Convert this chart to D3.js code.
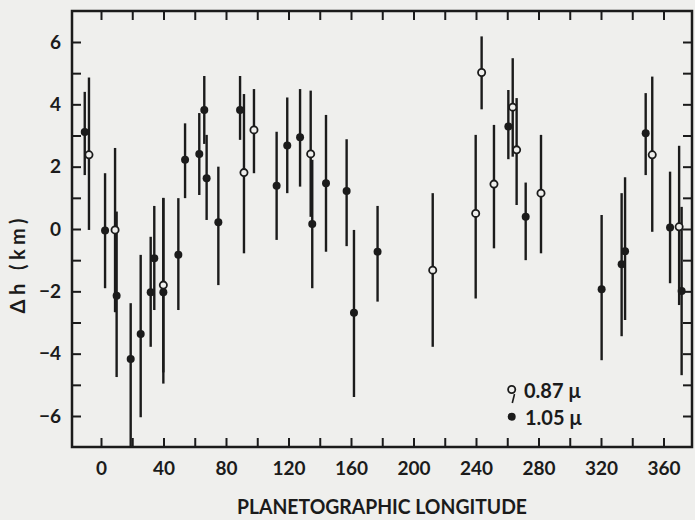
<!DOCTYPE html>
<html><head><meta charset="utf-8">
<script src="https://cdn.jsdelivr.net/npm/d3@7"></script>
<style>
body{margin:0;background:#efefed;}
svg{display:block;}
text{font-family:Lato,"DejaVu Sans",sans-serif;font-weight:700;fill:#1b1b1b;}
</style>
</head><body>
<svg id="chart" width="695" height="520"></svg>
<script>
// ---- tick values / labels ----
const xTicks = d3.range(0, 361, 20);
const xLabelValues = [0, 40, 80, 120, 160, 200, 240, 280, 320, 360];
const yTicks = d3.range(-6, 7, 1);
const yLabelValues = [-6, -4, -2, 0, 2, 4, 6];

// ---- series 1.05 micron (filled dots) ----
const lon105 = [-10.4, 2.6, 10.0, 19.0, 25.4, 31.8, 34.1, 39.9, 49.5, 53.8, 62.9, 66.1, 67.6, 75.1, 89.0,
                112.4, 119.2, 127.4, 135.2, 144.0, 157.2, 161.9, 177.0, 260.7, 271.8, 320.4, 333.2, 335.4,
                348.6, 364.2, 371.6];
const dh105  = [3.11, -0.05, -2.14, -4.17, -3.37, -2.03, -0.94, -2.03, -0.83, 2.22, 2.41, 3.82, 1.63, 0.22, 3.82,
                1.39, 2.68, 2.94, 0.16, 1.47, 1.22, -2.69, -0.73, 3.29, 0.39, -1.93, -1.13, -0.71,
                3.07, 0.05, -1.99];
const hi105  = [4.40, 1.79, 0.56, -2.38, -0.83, -0.25, 0.74, 0.99, 0.99, 3.39, 3.72, 4.91, 3.02, 2.00, 4.91,
                3.12, 4.22, 4.49, 2.22, 3.66, 2.88, -0.03, 0.74, 4.46, 1.49, 0.45, 1.15, 1.66,
                4.36, 1.84, 0.71];
const lo105  = [1.73, -1.90, -4.75, -7.00, -6.04, -3.78, -2.60, -4.96, -2.60, 0.99, 1.09, 2.73, 0.29, -1.80, 2.86,
                -0.35, 1.15, 1.36, -1.90, -0.73, -0.55, -5.39, -2.33, 2.24, -1.00, -4.21, -3.44, -2.92,
                1.73, -1.74, -4.69];

// ---- series 0.87 micron (open circles) ----
const lon087 = [-7.7, 9.0, 39.9, 91.5, 97.9, 134.2, 212.3, 239.8, 243.6, 251.5, 263.5, 266.0, 281.6, 352.8, 370.0];
const dh087  = [2.38, -0.03, -1.80, 1.81, 3.18, 2.41, -1.32, 0.50, 5.02, 1.44, 3.91, 2.54, 1.15, 2.38, 0.07];
const hi087  = [4.86, 2.60, 1.00, 4.33, 4.49, 4.44, 1.15, 3.02, 6.18, 3.34, 5.48, 4.20, 3.02, 4.89, 2.67];
const lo087  = [-0.03, -2.67, -4.60, -0.78, 1.79, 0.39, -3.78, -2.23, 3.84, -0.62, 2.32, 0.77, -0.78, -0.09, -2.44];

const legendLabels = ["0.87 \u03bc", "1.05 \u03bc"];
const xTitle = "PLANETOGRAPHIC LONGITUDE";
const yTitle = "\u0394h (km)";

// ---- layout ----
const ink = "#1b1b1b", paper = "#efefed";
const frame = {left: 72, right: 692, top: 11, bottom: 447};
const svg = d3.select("#chart");
svg.append("rect").attr("width", 695).attr("height", 520).attr("fill", paper);

const x = d3.scaleLinear().domain([0, 360]).range([101, 663.5]);
const y = d3.scaleLinear().domain([-6, 6]).range([416, 42]);
const fmtY = d => d < 0 ? "\u2212" + Math.abs(d) : String(d);

function styleAxis(g) {
  g.select(".domain").remove();
  g.selectAll(".tick line").attr("stroke", ink).attr("stroke-width", 2);
  g.selectAll(".tick text").style("font-size", "19px").attr("fill", ink);
}

svg.append("g").attr("transform", `translate(0,${frame.bottom})`)
  .call(d3.axisBottom(x).tickValues(xTicks).tickSize(-9).tickPadding(15)
    .tickFormat(d => xLabelValues.includes(d) ? String(d) : ""))
  .call(styleAxis);
svg.append("g").attr("transform", `translate(0,${frame.top})`)
  .call(d3.axisTop(x).tickValues(xTicks).tickSize(-9).tickFormat(""))
  .call(styleAxis);
svg.append("g").attr("transform", `translate(${frame.left},0)`)
  .call(d3.axisLeft(y).tickValues(yTicks).tickSize(-9).tickPadding(11)
    .tickFormat(d => yLabelValues.includes(d) ? fmtY(d) : ""))
  .call(styleAxis);
svg.append("g").attr("transform", `translate(${frame.right},0)`)
  .call(d3.axisRight(y).tickValues(yTicks).tickSize(-9).tickFormat(""))
  .call(styleAxis);

svg.append("rect")
  .attr("x", frame.left).attr("y", frame.top)
  .attr("width", frame.right - frame.left).attr("height", frame.bottom - frame.top)
  .attr("fill", "none").attr("stroke", ink).attr("stroke-width", 2.5);

// ---- data marks ----
const s105 = lon105.map((l, i) => ({lon: l, v: dh105[i], hi: hi105[i], lo: lo105[i]}));
const s087 = lon087.map((l, i) => ({lon: l, v: dh087[i], hi: hi087[i], lo: lo087[i]}));

const bars = svg.append("g").attr("stroke", ink).attr("stroke-width", 2.4);
bars.selectAll("line.b105").data(s105).join("line").attr("class", "b105")
  .attr("x1", d => x(d.lon)).attr("x2", d => x(d.lon))
  .attr("y1", d => y(d.hi)).attr("y2", d => y(d.lo));
bars.selectAll("line.b087").data(s087).join("line").attr("class", "b087")
  .attr("x1", d => x(d.lon)).attr("x2", d => x(d.lon))
  .attr("y1", d => y(d.hi)).attr("y2", d => y(d.lo));

svg.append("g").selectAll("circle").data(s105).join("circle")
  .attr("cx", d => x(d.lon)).attr("cy", d => y(d.v)).attr("r", 4)
  .attr("fill", ink);
svg.append("g").selectAll("circle").data(s087).join("circle")
  .attr("cx", d => x(d.lon)).attr("cy", d => y(d.v)).attr("r", 3.6)
  .attr("fill", paper).attr("stroke", ink).attr("stroke-width", 1.8);

// ---- legend ----
const lg = svg.append("g");
lg.append("line").attr("x1", 514.5).attr("y1", 394).attr("x2", 512.3).attr("y2", 403)
  .attr("stroke", ink).attr("stroke-width", 1.6);
lg.append("circle").attr("cx", 511.7).attr("cy", 389.5).attr("r", 3.6)
  .attr("fill", paper).attr("stroke", ink).attr("stroke-width", 1.8);
lg.append("circle").attr("cx", 511.7).attr("cy", 416.7).attr("r", 4).attr("fill", ink);
lg.append("text").attr("x", 524).attr("y", 397.5).style("font-size", "20px").text(legendLabels[0]);
lg.append("text").attr("x", 525).attr("y", 425).style("font-size", "20px").text(legendLabels[1]);

// ---- titles ----
svg.append("text").attr("x", 382).attr("y", 514).attr("text-anchor", "middle")
  .style("font-size", "20px").attr("textLength", 290).attr("lengthAdjust", "spacingAndGlyphs")
  .text(xTitle);
svg.append("text").attr("transform", "translate(25,266) rotate(-90)").attr("text-anchor", "middle")
  .style("font-size", "20px").attr("textLength", 95).attr("lengthAdjust", "spacing")
  .text(yTitle);
</script>
</body></html>
